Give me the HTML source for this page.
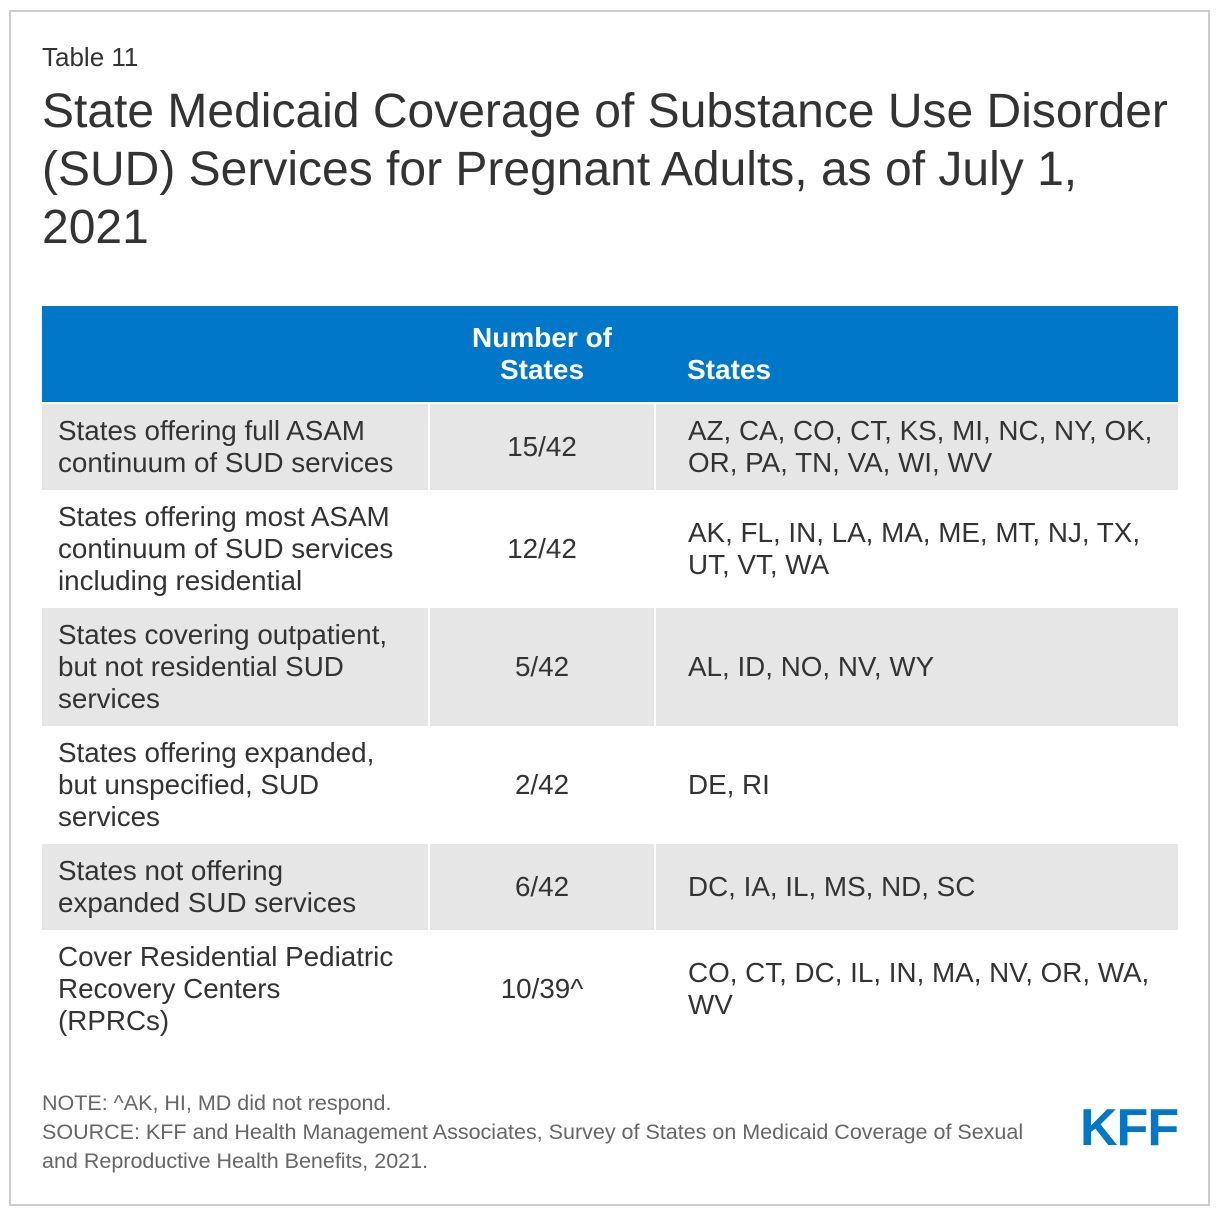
<!DOCTYPE html>
<html><head><meta charset="utf-8"><style>
*{margin:0;padding:0;box-sizing:border-box}
body{width:1220px;height:1216px;background:#fff;font-family:"Liberation Sans",Arial,sans-serif;color:#333;position:relative;overflow:hidden}
.frame{position:absolute;left:9px;top:10px;width:1201px;height:1196px;border:2px solid #ccc}
.abs{position:absolute}
.cell{position:absolute;display:flex;align-items:center;font-size:27.8px;line-height:32px;color:#333}
.bg{position:absolute;left:42px;width:1136px;background:#e6e6e6}
.vl{position:absolute;width:2px;background:#fff}
</style></head><body>
<div class="frame"></div>
<div class="abs" style="left:42px;top:42px;font-size:26px;color:#333">Table 11</div>
<div class="abs" style="left:42px;top:83px;width:1150px;font-size:48px;line-height:58px;color:#333">State Medicaid Coverage of Substance Use Disorder (SUD) Services for Pregnant Adults, as of July 1, 2021</div>

<div class="abs" style="left:42px;top:306px;width:1136px;height:96px;background:#0077c8"></div>
<div class="abs" style="left:430px;top:322px;width:224px;text-align:center;color:#fff;font-weight:bold;font-size:28px;line-height:32px">Number of<br>States</div>
<div class="abs" style="left:687px;top:354px;color:#fff;font-weight:bold;font-size:28px;line-height:32px">States</div>

<div class="bg" style="top:404px;height:86px"></div>
<div class="bg" style="top:608px;height:118px"></div>
<div class="bg" style="top:844px;height:86px"></div>
<div class="vl" style="left:428px;top:404px;height:644px"></div>
<div class="vl" style="left:654px;top:404px;height:644px"></div>

<div>
<div class="cell" style="left:58px;top:404px;width:341px;height:86px">States offering full ASAM continuum of SUD services</div>
<div class="cell" style="left:430px;top:404px;width:224px;height:86px;justify-content:center">15/42</div>
<div class="cell" style="left:688px;top:404px;width:475px;height:86px">AZ, CA, CO, CT, KS, MI, NC, NY, OK, OR, PA, TN, VA, WI, WV</div>
</div>
<div>
<div class="cell" style="left:58px;top:490px;width:341px;height:118px">States offering most ASAM continuum of SUD services including residential</div>
<div class="cell" style="left:430px;top:490px;width:224px;height:118px;justify-content:center">12/42</div>
<div class="cell" style="left:688px;top:490px;width:475px;height:118px">AK, FL, IN, LA, MA, ME, MT, NJ, TX, UT, VT, WA</div>
</div>
<div>
<div class="cell" style="left:58px;top:608px;width:341px;height:118px">States covering outpatient, but not residential SUD services</div>
<div class="cell" style="left:430px;top:608px;width:224px;height:118px;justify-content:center">5/42</div>
<div class="cell" style="left:688px;top:608px;width:475px;height:118px">AL, ID, NO, NV, WY</div>
</div>
<div>
<div class="cell" style="left:58px;top:726px;width:341px;height:118px">States offering expanded, but unspecified, SUD services</div>
<div class="cell" style="left:430px;top:726px;width:224px;height:118px;justify-content:center">2/42</div>
<div class="cell" style="left:688px;top:726px;width:475px;height:118px">DE, RI</div>
</div>
<div>
<div class="cell" style="left:58px;top:844px;width:341px;height:86px">States not offering expanded SUD services</div>
<div class="cell" style="left:430px;top:844px;width:224px;height:86px;justify-content:center">6/42</div>
<div class="cell" style="left:688px;top:844px;width:475px;height:86px">DC, IA, IL, MS, ND, SC</div>
</div>
<div>
<div class="cell" style="left:58px;top:930px;width:341px;height:118px">Cover Residential Pediatric Recovery Centers (RPRCs)</div>
<div class="cell" style="left:430px;top:930px;width:224px;height:118px;justify-content:center">10/39^</div>
<div class="cell" style="left:688px;top:930px;width:475px;height:118px">CO, CT, DC, IL, IN, MA, NV, OR, WA, WV</div>
</div>

<div class="abs" style="left:42px;top:1089px;width:1010px;font-size:21.5px;line-height:29px;color:#666">NOTE: ^AK, HI, MD did not respond.<br>SOURCE: KFF and Health Management Associates, Survey of States on Medicaid Coverage of Sexual and Reproductive Health Benefits, 2021.</div>
<div class="abs" style="left:1080px;top:1100px;font-size:52px;font-weight:bold;color:#0077c8;letter-spacing:-1px;line-height:56px">KFF</div>
</body></html>
